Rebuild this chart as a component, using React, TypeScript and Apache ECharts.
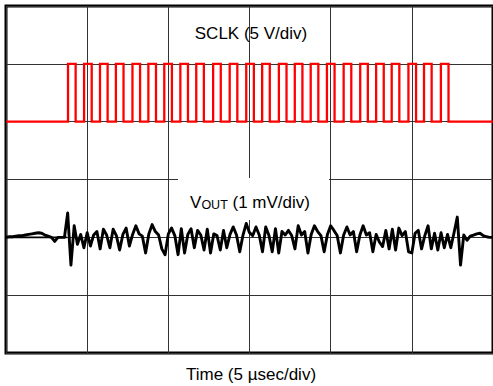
import React, { useEffect, useRef } from "react";
import * as echarts from "echarts";

// Time axis: 0..30 µs (5 µs/div)
const timeMinUs = 0;
const timeMaxUs = 30;
const timeDivUs = 5;

// SCLK (V): rising edges in µs, high time and levels
const sclkRisingUs = [
  3.82, 4.81, 5.79, 6.77, 7.79, 8.77, 9.75, 10.74, 11.72, 12.76, 13.78, 14.8,
  15.78, 16.81, 17.79, 18.77, 19.77, 20.8, 21.82, 22.8, 23.76, 24.79, 25.75, 26.79,
];
const sclkHighUs = 0.47;
const sclkLowV = 0;
const sclkHighV = 5;

// VOUT (mV) sampled every 0.2 µs from 0 to 30 µs
const vOutStepUs = 0.2;
const vOutMv = [
  0, 0.01, 0.01, 0.02, 0.03, 0.03, 0.04, 0.05, 0.06, 0.07,
  0.08, 0.07, 0.04, 0.02, 0, -0.07, 0, 0, 0, 0.42,
  -0.48, 0.2, -0.12, 0.05, -0.18, 0.08, -0.15, 0.04, 0.1, -0.2,
  0.14, 0.04, -0.18, 0.14, 0.03, -0.22, 0.05, 0.16, -0.15, 0.05,
  0.2, 0.06, 0.02, -0.27, 0.06, 0.22, 0.1, 0.04, -0.2, -0.3,
  0.06, 0.16, 0.03, -0.3, 0.15, -0.27, 0.05, 0.15, -0.18, 0.12,
  0.04, -0.22, 0.14, -0.27, 0.06, 0.03, -0.22, 0.12, -0.18, 0.05,
  0.18, 0.04, -0.25, 0.04, 0.24, 0.08, 0.03, 0.18, 0.04, -0.25,
  0.18, 0.03, -0.25, 0.15, -0.27, 0.1, 0.04, 0.12, 0.03, -0.2,
  0.2, 0.04, 0.1, -0.27, 0.05, 0.2, 0.1, 0.03, -0.25, 0.05,
  0.2, 0.12, 0.03, -0.27, 0.04, 0.18, 0.04, 0.1, -0.25, 0.04,
  0.2, 0.04, 0.08, -0.25, 0.05, -0.08, -0.16, 0.12, -0.2, 0.14,
  -0.22, 0.16, 0.03, 0.1, -0.25, -0.27, 0.07, 0.12, -0.2, 0.03,
  0.2, -0.2, 0.07, -0.22, 0.08, -0.18, 0.05, -0.18, 0.08, 0.35,
  -0.48, 0.04, -0.05, 0.02, 0.04, 0.06, 0.07, 0.03, 0.01, 0.0,
  0.0,
];
// second flat trace at start (triangle look)
const vOutFlatStartUs = [0, 3.75];

const labelSclk = "SCLK (5 V/div)";
const labelTime = "Time (5 \u00b5sec/div)";

const FONT = "'Liberation Sans', Arial, Helvetica, sans-serif";

export default function App() {
  const ref = useRef<HTMLDivElement>(null);

  useEffect(() => {
    if (!ref.current) return;
    const chart = echarts.init(ref.current, null, { renderer: "svg" });

    const sclkData: number[][] = [[timeMinUs, sclkLowV]];
    sclkRisingUs.forEach((r) => {
      sclkData.push([r, sclkLowV], [r, sclkHighV], [r + sclkHighUs, sclkHighV], [r + sclkHighUs, sclkLowV]);
    });
    sclkData.push([timeMaxUs, sclkLowV]);

    const vOutData = vOutMv.map((v, i) => [+(i * vOutStepUs).toFixed(2), v]);
    const vOutFlat = vOutFlatStartUs.map((t) => [t, 0]);

    chart.setOption({
      animation: false,
      backgroundColor: "#ffffff",
      grid: {
        left: 6,
        top: 6,
        width: 489,
        height: 347,
        show: true,
        borderColor: "#000000",
        borderWidth: 3,
        backgroundColor: "transparent",
      },
      xAxis: {
        type: "value",
        min: timeMinUs,
        max: timeMaxUs,
        interval: timeDivUs,
        axisLine: { show: false },
        axisTick: { show: false },
        axisLabel: { show: false },
        splitLine: { show: true, lineStyle: { color: "#333333", width: 1 } },
      },
      yAxis: [
        {
          type: "value",
          min: -20,
          max: 10,
          interval: 5,
          axisLine: { show: false },
          axisTick: { show: false },
          axisLabel: { show: false },
          splitLine: { show: true, lineStyle: { color: "#333333", width: 1 } },
        },
        {
          type: "value",
          min: -2,
          max: 4,
          interval: 1,
          axisLine: { show: false },
          axisTick: { show: false },
          axisLabel: { show: false },
          splitLine: { show: false },
        },
      ],
      series: [
        {
          name: "SCLK",
          type: "line",
          yAxisIndex: 0,
          data: sclkData,
          symbol: "none",
          lineStyle: { color: "#ff0000", width: 2.3, join: "miter" },
          z: 3,
        },
        {
          name: "VOUT flat",
          type: "line",
          yAxisIndex: 1,
          data: vOutFlat,
          symbol: "none",
          lineStyle: { color: "#000000", width: 1.8 },
          z: 3,
        },
        {
          name: "VOUT",
          type: "line",
          yAxisIndex: 1,
          data: vOutData,
          symbol: "none",
          lineStyle: { color: "#000000", width: 2.9, join: "round" },
          z: 4,
        },
      ],
      graphic: [
        {
          type: "rect",
          shape: { x: 178, y: 178, width: 151, height: 42 },
          style: { fill: "#ffffff" },
          z: 50,
        },
        {
          type: "text",
          x: 251,
          y: 33,
          z: 60,
          style: {
            text: labelSclk,
            font: `17px ${FONT}`,
            fill: "#000000",
            align: "center",
            verticalAlign: "middle",
          },
        },
        {
          type: "text",
          x: 250,
          y: 201,
          z: 60,
          style: {
            text: "{a|V}{b|OUT}{a| (1 mV/div)}",
            align: "center",
            verticalAlign: "middle",
            fill: "#000000",
            rich: {
              a: { fontSize: 17, fontFamily: FONT, fill: "#000000", verticalAlign: "bottom", lineHeight: 20 },
              b: { fontSize: 12.5, fontFamily: FONT, fill: "#000000", verticalAlign: "bottom", lineHeight: 20 },
            },
          },
        },
        {
          type: "text",
          x: 251,
          y: 374,
          z: 60,
          style: {
            text: labelTime,
            font: `17px ${FONT}`,
            fill: "#000000",
            align: "center",
            verticalAlign: "middle",
          },
        },
      ],
    });

    return () => chart.dispose();
  }, []);

  return (
    <div
      ref={ref}
      style={{ position: "fixed", left: 0, top: 0, width: 493, height: 386, background: "#fff" }}
    />
  );
}
